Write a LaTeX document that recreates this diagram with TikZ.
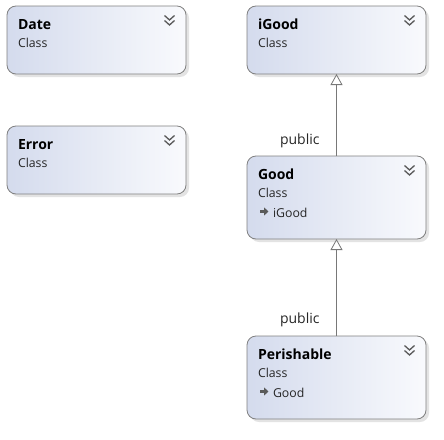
\documentclass[tikz,border=0pt]{standalone}
\usepackage{fontspec}
\setmainfont{Open Sans}
\usetikzlibrary{positioning, arrows.meta, shadows}

\definecolor{boxleft}{RGB}{212,219,237}
\definecolor{boxright}{RGB}{249,250,253}
\definecolor{boxline}{RGB}{128,128,128}
\definecolor{iconcol}{RGB}{90,90,90}
\definecolor{linkcol}{RGB}{120,120,120}

\begin{document}
\begin{tikzpicture}[x=1pt, y=-1pt]
\tikzstyle{every node}=[inner sep=0pt, outer sep=0pt]
\tikzstyle{classbox}=[draw=boxline, line width=0.8pt, rounded corners=9pt,
  left color=boxleft, right color=boxright, anchor=north west,
  minimum width=179pt,
  drop shadow={shadow xshift=3pt, shadow yshift=-3pt, fill=black!22}]
\tikzstyle{title}=[anchor=base west, font=\fontsize{14}{16}\selectfont\bfseries]
\tikzstyle{kind}=[anchor=base west, font=\fontsize{12.3}{14}\selectfont, text=black!85]
\tikzstyle{role}=[anchor=base east, font=\fontsize{14}{16}\selectfont, text=black!85]
\tikzstyle{chev}=[draw=iconcol, line width=1.3pt]
\tikzstyle{inherit}=[draw=linkcol, line width=0.8pt,
  -{Triangle[open, fill=white, length=11pt, width=12pt]}]

\useasboundingbox (0,0) rectangle (444,439);

% class boxes
\node[classbox, minimum height=68pt] at (7,6) (date) {};
\node[classbox, minimum height=68pt] at (7,126) (error) {};
\node[classbox, minimum height=68pt] at (247,6) (igood) {};
\node[classbox, minimum height=83pt] at (247,156) (good) {};
\node[classbox, minimum height=83pt] at (247,336) (perish) {};

% titles and kinds
\node[title] at ([shift={(11,23)}]date.north west) (datename) {Date};
\node[kind] at ([shift={(11,41)}]date.north west) (datekind) {Class};
\node[title] at ([shift={(11,23)}]error.north west) (errorname) {Error};
\node[kind] at ([shift={(11,41)}]error.north west) (errorkind) {Class};
\node[title] at ([shift={(11,23)}]igood.north west) (igoodname) {iGood};
\node[kind] at ([shift={(11,41)}]igood.north west) (igoodkind) {Class};
\node[title] at ([shift={(11,23)}]good.north west) (goodname) {Good};
\node[kind] at ([shift={(11,41)}]good.north west) (goodkind) {Class};
\node[kind] at ([shift={(26,61)}]good.north west) (goodbase) {iGood};
\node[title] at ([shift={(11,23)}]perish.north west) (perishname) {Perishable};
\node[kind] at ([shift={(11,41)}]perish.north west) (perishkind) {Class};
\node[kind] at ([shift={(26,61)}]perish.north west) (perishbase) {Good};

% base class arrows
\foreach \b in {goodbase, perishbase} {
  \draw[iconcol, line width=2.2pt, -{Triangle[length=4.5pt, width=8pt]}]
    ([shift={(-13,-5.5)}]\b.base west) -- ++(8.5,0);
}

% collapse chevrons
\foreach \b in {date, error, igood, good, perish} {
  \draw[chev] ([shift={(-21.5,9.5)}]\b.north east) -- ++(5,4.5) -- ++(5,-4.5);
  \draw[chev] ([shift={(-21.5,14.5)}]\b.north east) -- ++(5,4.5) -- ++(5,-4.5);
}

% inheritance
\draw[inherit] (good) -- node[pos=0.146, role, xshift=-17pt] (pub1) {public} (igood);
\draw[inherit] (perish) -- node[pos=0.124, role, xshift=-17pt] (pub2) {public} (good);
\end{tikzpicture}
\end{document}
